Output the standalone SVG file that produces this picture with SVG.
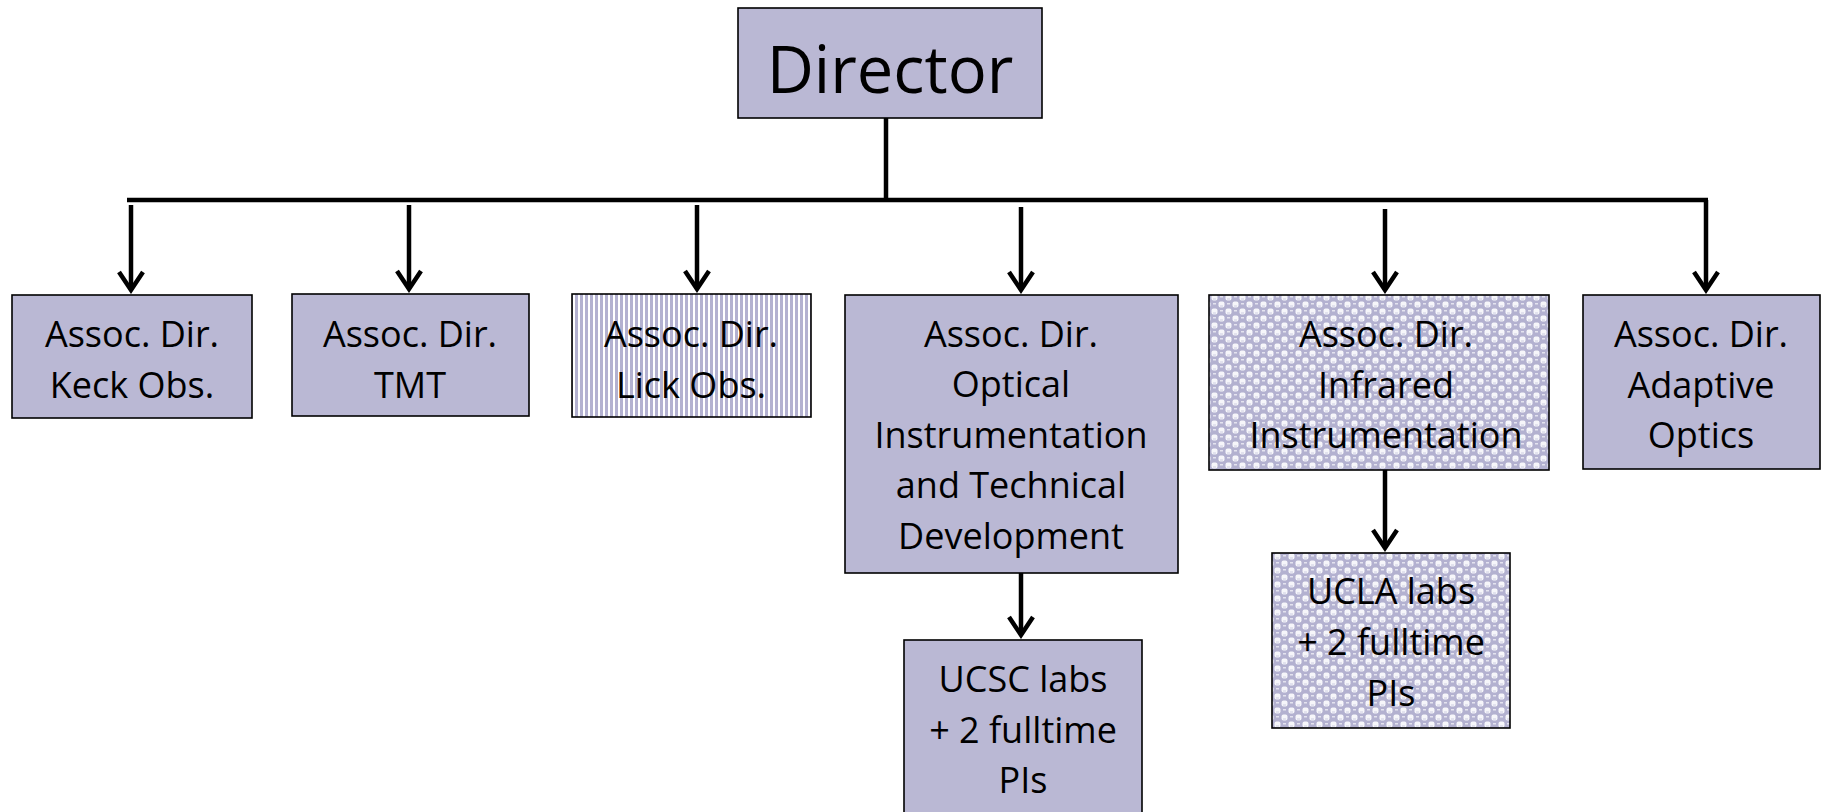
<svg xmlns="http://www.w3.org/2000/svg" width="1822" height="812" viewBox="0 0 1822 812">
  <style>
    .box { fill: #BAB8D4; stroke: #000; stroke-width: 1.6; }
    .stripe { fill: url(#vstripe); stroke: #000; stroke-width: 1.6; }
    .sphere { fill: url(#spheres); stroke: #000; stroke-width: 1.6; }
    .lbl { font-family: "Open Sans", "DejaVu Sans", sans-serif; font-size: 36px; fill: #000; text-anchor: middle; }
    .big { font-family: "Open Sans", "DejaVu Sans", sans-serif; font-size: 65px; fill: #000; text-anchor: middle; }
    .line { stroke: #000; stroke-width: 4.5; fill: none; }
    .arrow { stroke: #000; stroke-width: 4.5; fill: none; marker-end: url(#head); }
  </style>
  <defs>
    <pattern id="vstripe" patternUnits="userSpaceOnUse" width="5" height="10">
      <rect x="0" y="0" width="5" height="10" fill="#FFFFFF"/>
      <rect x="0" y="0" width="3" height="10" fill="#B3B1D0"/>
    </pattern>
    <pattern id="spheres" patternUnits="userSpaceOnUse" width="14" height="14">
      <rect x="0" y="0" width="14" height="14" fill="#B3B1D0"/>
      <rect x="7.5" y="0.5" width="6" height="6" rx="2" fill="#F6F6FA"/>
      <rect x="0.5" y="7.5" width="6" height="6" rx="2" fill="#F6F6FA"/>
      <rect x="2" y="2" width="3" height="1.5" fill="#E4E3EF"/>
      <rect x="9" y="9" width="3" height="1.5" fill="#E4E3EF"/>
      <rect x="9" y="4.5" width="3" height="1" fill="#CFCEE2"/>
      <rect x="2" y="11.5" width="3" height="1" fill="#CFCEE2"/>
    </pattern>
    <marker id="head" markerUnits="userSpaceOnUse" viewBox="-22 -16 26 32" refX="0" refY="0" markerWidth="26" markerHeight="32" orient="auto">
      <path d="M-18,-12 L0,0 L-18,12" fill="none" stroke="#000" stroke-width="4.5" stroke-linejoin="miter"/>
    </marker>
  </defs>

  <g id="connectors">
    <line class="line" x1="886" y1="118" x2="886" y2="202"/>
    <line class="line" x1="127" y1="200" x2="1708" y2="200"/>
    <line class="arrow" x1="131" y1="205" x2="131" y2="290"/>
    <line class="arrow" x1="409" y1="205" x2="409" y2="289"/>
    <line class="arrow" x1="697" y1="205" x2="697" y2="289"/>
    <line class="arrow" x1="1021" y1="207" x2="1021" y2="290"/>
    <line class="arrow" x1="1385" y1="209" x2="1385" y2="290"/>
    <line class="arrow" x1="1706" y1="200" x2="1706" y2="290"/>
    <line class="arrow" x1="1021" y1="573" x2="1021" y2="635"/>
    <line class="arrow" x1="1385" y1="470" x2="1385" y2="548"/>
  </g>

  <g id="director">
    <rect class="box" x="738" y="8" width="304" height="110"/>
    <text class="big" x="890" y="93">Director</text>
  </g>

  <g id="keck">
    <rect class="box" x="12" y="295" width="240" height="123"/>
    <text class="lbl" x="132" y="347">Assoc. Dir.</text>
    <text class="lbl" x="132" y="398">Keck Obs.</text>
  </g>

  <g id="tmt">
    <rect class="box" x="292" y="294" width="237" height="122"/>
    <text class="lbl" x="410" y="347">Assoc. Dir.</text>
    <text class="lbl" x="410" y="398">TMT</text>
  </g>

  <g id="lick">
    <rect class="stripe" x="572" y="294" width="239" height="123"/>
    <text class="lbl" x="691" y="347">Assoc. Dir.</text>
    <text class="lbl" x="691" y="398">Lick Obs.</text>
  </g>

  <g id="optical">
    <rect class="box" x="845" y="295" width="333" height="278"/>
    <text class="lbl" x="1011" y="347">Assoc. Dir.</text>
    <text class="lbl" x="1011" y="397">Optical</text>
    <text class="lbl" x="1011" y="448">Instrumentation</text>
    <text class="lbl" x="1011" y="498">and Technical</text>
    <text class="lbl" x="1011" y="549">Development</text>
  </g>

  <g id="infrared">
    <rect class="sphere" x="1209" y="295" width="340" height="175"/>
    <text class="lbl" x="1386" y="347">Assoc. Dir.</text>
    <text class="lbl" x="1386" y="398">Infrared</text>
    <text class="lbl" x="1386" y="448">Instrumentation</text>
  </g>

  <g id="adaptive">
    <rect class="box" x="1583" y="295" width="237" height="174"/>
    <text class="lbl" x="1701" y="347">Assoc. Dir.</text>
    <text class="lbl" x="1701" y="398">Adaptive</text>
    <text class="lbl" x="1701" y="448">Optics</text>
  </g>

  <g id="ucsc">
    <rect class="box" x="904" y="640" width="238" height="185"/>
    <text class="lbl" x="1023" y="692">UCSC labs</text>
    <text class="lbl" x="1023" y="743">+ 2 fulltime</text>
    <text class="lbl" x="1023" y="793">PIs</text>
  </g>

  <g id="ucla">
    <rect class="sphere" x="1272" y="553" width="238" height="175"/>
    <text class="lbl" x="1391" y="604">UCLA labs</text>
    <text class="lbl" x="1391" y="655">+ 2 fulltime</text>
    <text class="lbl" x="1391" y="706">PIs</text>
  </g>
</svg>
